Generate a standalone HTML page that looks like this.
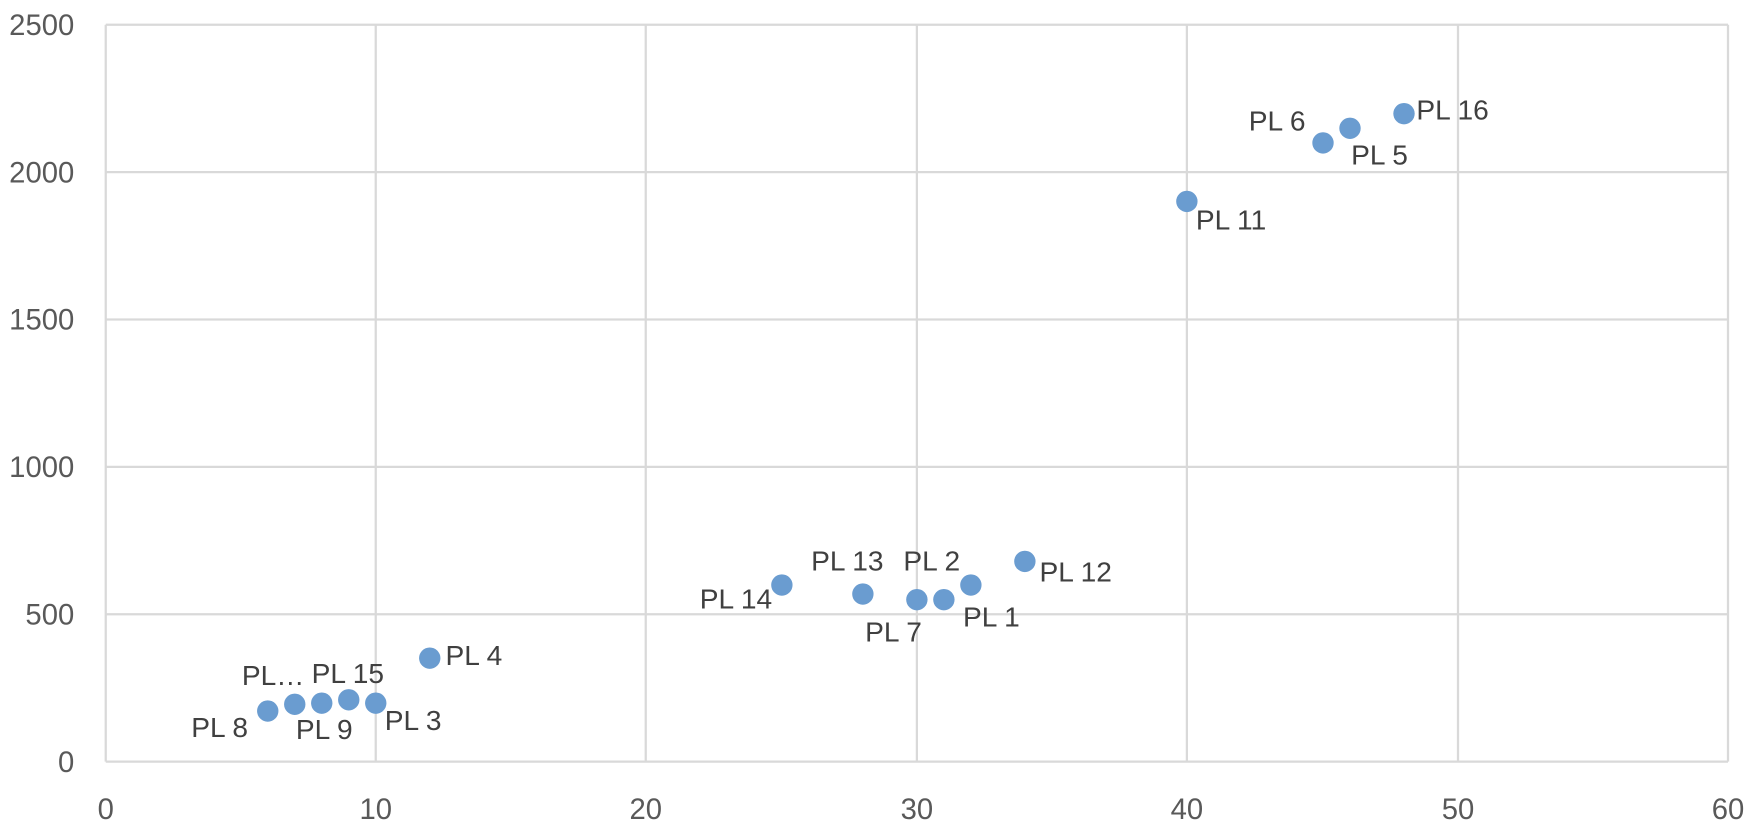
<!DOCTYPE html>
<html><head><meta charset="utf-8"><style>
html,body{margin:0;padding:0;background:#fff;}
svg{display:block;font-family:"Liberation Sans",sans-serif;}
</style></head><body>
<svg width="1764" height="834" viewBox="0 0 1568 741.33" preserveAspectRatio="none">
<g stroke="#d9d9d9" stroke-width="2">
<line x1="94" y1="22" x2="1536" y2="22"/>
<line x1="94" y1="153" x2="1536" y2="153"/>
<line x1="94" y1="284" x2="1536" y2="284"/>
<line x1="94" y1="415" x2="1536" y2="415"/>
<line x1="94" y1="546" x2="1536" y2="546"/>
<line x1="94" y1="677" x2="1536" y2="677"/>
<line x1="94" y1="22" x2="94" y2="677"/>
<line x1="334" y1="22" x2="334" y2="677"/>
<line x1="574" y1="22" x2="574" y2="677"/>
<line x1="815" y1="22" x2="815" y2="677"/>
<line x1="1055" y1="22" x2="1055" y2="677"/>
<line x1="1296" y1="22" x2="1296" y2="677"/>
<line x1="1536" y1="22" x2="1536" y2="677"/>
</g>
<g fill="#595959" font-size="26" text-anchor="end">
<text x="66" y="31">2500</text>
<text x="66" y="162">2000</text>
<text x="66" y="293">1500</text>
<text x="66" y="424">1000</text>
<text x="66" y="555">500</text>
<text x="66" y="686">0</text>
</g>
<g fill="#595959" font-size="26" text-anchor="middle">
<text x="94" y="728">0</text>
<text x="334" y="728">10</text>
<text x="574" y="728">20</text>
<text x="815" y="728">30</text>
<text x="1055" y="728">40</text>
<text x="1296" y="728">50</text>
<text x="1536" y="728">60</text>
</g>
<g fill="#6a9cd0">
<circle cx="238" cy="632" r="9.5"/>
<circle cx="262" cy="626" r="9.5"/>
<circle cx="286" cy="625" r="9.5"/>
<circle cx="310" cy="622" r="9.5"/>
<circle cx="334" cy="625" r="9.5"/>
<circle cx="382" cy="585" r="9.5"/>
<circle cx="695" cy="520" r="9.5"/>
<circle cx="767" cy="528" r="9.5"/>
<circle cx="815" cy="533" r="9.5"/>
<circle cx="839" cy="533" r="9.5"/>
<circle cx="863" cy="520" r="9.5"/>
<circle cx="911" cy="499" r="9.5"/>
<circle cx="1055" cy="179" r="9.5"/>
<circle cx="1176" cy="127" r="9.5"/>
<circle cx="1200" cy="114" r="9.5"/>
<circle cx="1248" cy="101" r="9.5"/>
</g>
<g fill="#404040" font-size="25">
<text x="170" y="655">PL 8</text>
<text x="215" y="609">PL…</text>
<text x="263" y="657">PL 9</text>
<text x="277" y="607">PL 15</text>
<text x="342" y="649">PL 3</text>
<text x="396" y="591">PL 4</text>
<text x="622" y="541">PL 14</text>
<text x="721" y="507">PL 13</text>
<text x="769" y="570">PL 7</text>
<text x="803" y="507">PL 2</text>
<text x="856" y="557">PL 1</text>
<text x="924" y="517">PL 12</text>
<text x="1063" y="204">PL 11</text>
<text x="1110" y="116">PL 6</text>
<text x="1201" y="146">PL 5</text>
<text x="1259" y="106">PL 16</text>
</g>
</svg>
</body></html>
